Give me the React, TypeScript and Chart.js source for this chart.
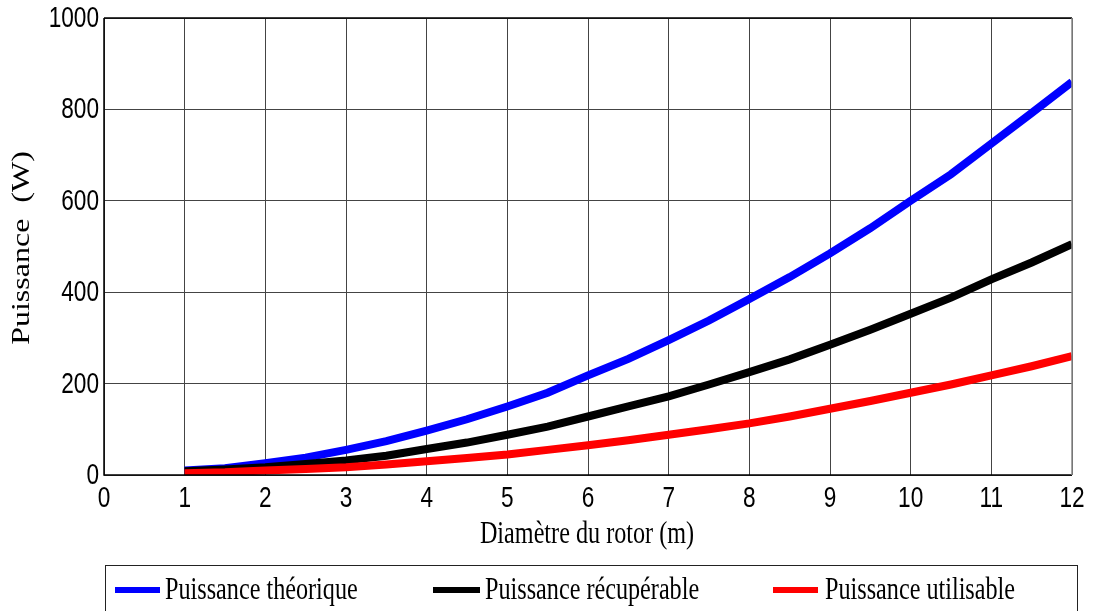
import React, { useEffect, useRef } from "react";
import { Chart, registerables } from "chart.js";

Chart.register(...registerables);

const diameters = [1, 1.5, 2, 2.5, 3, 3.5, 4, 4.5, 5, 5.5, 6, 6.5, 7, 7.5, 8, 8.5, 9, 9.5, 10, 10.5, 11, 11.5, 12];
const theorique = [10, 15, 26, 38, 55, 74, 97, 122, 150, 180, 218, 254, 295, 338, 385, 433, 485, 540, 600, 658, 725, 792, 860];
const recuperable = [8, 12, 17, 24, 32, 42, 57, 71, 88, 106, 128, 150, 172, 198, 225, 253, 285, 318, 353, 388, 428, 465, 505];
const utilisable = [4, 6, 10, 13, 17, 23, 30, 37, 45, 55, 65, 76, 88, 100, 113, 128, 145, 162, 180, 198, 218, 238, 260];

const seriesNames = ["Puissance théorique", "Puissance récupérable", "Puissance utilisable"];
const seriesColors = ["#0000ff", "#000000", "#ff0000"];
const xTitle = "Diamètre du rotor (m)";
const yTitle = "Puissance  (W)";

const SX = 0.78; // horizontal squeeze of all texts, as in the reference
const SANS = '"Liberation Sans", Arial, sans-serif';
const SERIF = '"Liberation Serif", "Times New Roman", serif';

const toPoints = (ys: number[]) => diameters.map((x, i) => ({ x, y: ys[i] }));

function squeezedText(ctx: any, text: string, x: number, y: number, align: string) {
  ctx.save();
  ctx.translate(x, y);
  ctx.scale(SX, 1);
  ctx.textAlign = align;
  ctx.fillText(text, 0, 0);
  ctx.restore();
}

const decorPlugin = {
  id: "decor",
  afterDatasetsDraw(chart: any) {
    const { ctx, chartArea } = chart;
    const { left, right, top, bottom } = chartArea;
    ctx.save();
    ctx.lineWidth = 1.5;
    ctx.strokeStyle = "#000";
    ctx.beginPath();
    ctx.moveTo(left, top);
    ctx.lineTo(right, top);
    ctx.moveTo(left, top);
    ctx.lineTo(left, bottom);
    ctx.lineTo(right, bottom);
    ctx.stroke();
    ctx.strokeStyle = "#888";
    ctx.beginPath();
    ctx.moveTo(right, top);
    ctx.lineTo(right, bottom);
    ctx.stroke();
    ctx.restore();
  },
  afterDraw(chart: any) {
    const { ctx, chartArea, scales } = chart;
    ctx.save();
    ctx.fillStyle = "#000";
    // tick labels
    ctx.font = `29px ${SANS}`;
    ctx.textBaseline = "middle";
    scales.x.ticks.forEach((t: any) => {
      squeezedText(ctx, String(t.value), scales.x.getPixelForValue(t.value), 499, "center");
    });
    scales.y.ticks.forEach((t: any) => {
      squeezedText(ctx, String(t.value), chartArea.left - 5, scales.y.getPixelForValue(t.value) + 1, "right");
    });
    // axis titles
    ctx.textBaseline = "alphabetic";
    ctx.font = `31px ${SERIF}`;
    squeezedText(ctx, xTitle, (chartArea.left + chartArea.right) / 2 - 1, 543, "center");
    ctx.save();
    ctx.translate(29, 248);
    ctx.rotate(-Math.PI / 2);
    ctx.scale(1, SX);
    ctx.font = `32px ${SERIF}`;
    ctx.textAlign = "center";
    ctx.fillText(yTitle, 0, 0);
    ctx.restore();
    // legend box
    ctx.strokeStyle = "#222";
    ctx.lineWidth = 1;
    ctx.strokeRect(105.5, 565.5, 972, 60);
    const swatchX = [115, 433, 773];
    const swatchW = [45, 47, 45];
    const textX = [165, 485, 825];
    ctx.font = `31px ${SERIF}`;
    seriesNames.forEach((name, i) => {
      ctx.fillStyle = seriesColors[i];
      ctx.fillRect(swatchX[i], 587, swatchW[i], 6);
      ctx.fillStyle = "#000";
      squeezedText(ctx, name, textX[i], 599, "left");
    });
    ctx.restore();
  },
};

export default function App() {
  const ref = useRef<HTMLCanvasElement>(null);
  useEffect(() => {
    if (!ref.current) return;
    const chart = new Chart(ref.current, {
      type: "line",
      data: {
        datasets: [
          { label: seriesNames[0], data: toPoints(theorique), borderColor: seriesColors[0], borderWidth: 8, pointRadius: 0, order: 2, tension: 0 },
          { label: seriesNames[1], data: toPoints(recuperable), borderColor: seriesColors[1], borderWidth: 8, pointRadius: 0, order: 1, tension: 0 },
          { label: seriesNames[2], data: toPoints(utilisable), borderColor: seriesColors[2], borderWidth: 8, pointRadius: 0, order: 0, tension: 0 },
        ],
      },
      options: {
        animation: false,
        responsive: false,
        maintainAspectRatio: false,
        layout: { padding: { left: 0, right: 23, top: 18, bottom: 0 } },
        plugins: { legend: { display: false }, tooltip: { enabled: false } },
        scales: {
          x: {
            type: "linear",
            min: 0,
            max: 12,
            ticks: { stepSize: 1, display: false },
            grid: { color: "#444", lineWidth: 1, drawTicks: false },
            border: { display: false },
            afterFit: (s: any) => { s.height = 136; },
          },
          y: {
            min: 0,
            max: 1000,
            ticks: { stepSize: 200, display: false },
            grid: { color: "#444", lineWidth: 1, drawTicks: false },
            border: { display: false },
            afterFit: (s: any) => { s.width = 104; },
          },
        },
      },
      plugins: [decorPlugin],
    });
    return () => chart.destroy();
  }, []);
  return (
    <div style={{ position: "absolute", left: 0, top: 0, width: 1095, height: 611, background: "#fff", overflow: "hidden" }}>
      <canvas ref={ref} width={1095} height={611} style={{ display: "block" }} />
    </div>
  );
}
